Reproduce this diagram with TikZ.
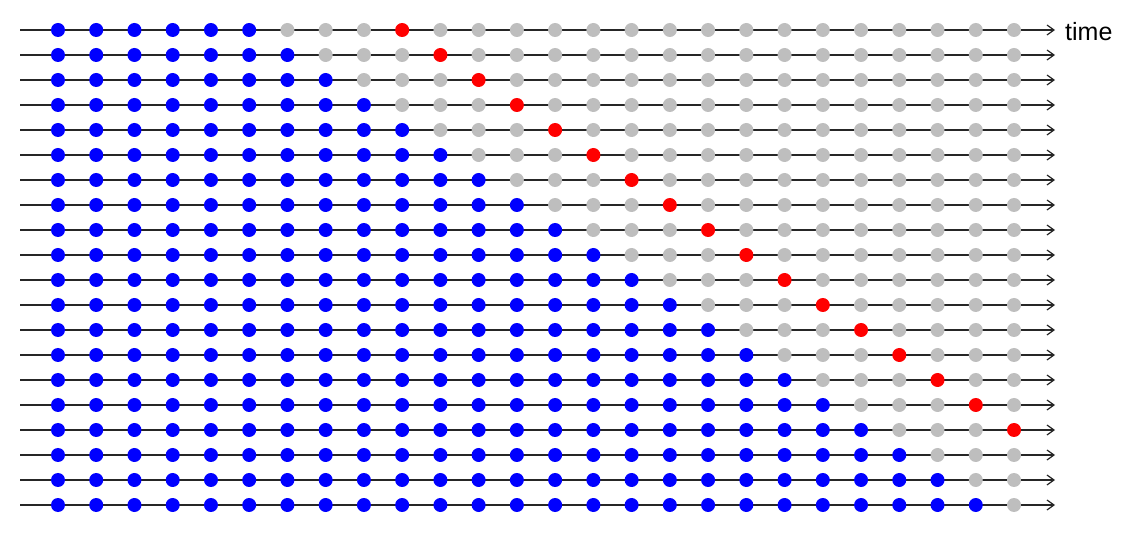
\documentclass[tikz,border=0pt]{standalone}
\usepackage{fontspec}
\setmainfont{Liberation Sans}
\usetikzlibrary{arrows.meta}
\definecolor{dotblue}{RGB}{0,0,255}
\definecolor{dotred}{RGB}{255,0,0}
\definecolor{dotgray}{RGB}{190,190,190}
\begin{document}
\begin{tikzpicture}[x=1pt,y=-1pt,
  axisline/.style={draw=black!85,line width=1.3pt,-{Straight Barb[length=7pt,width=10pt,line width=1.2pt]}},
  dot/.style={circle,inner sep=0pt,minimum size=14pt,draw=none},
  train/.style={dot,fill=dotblue},
  test/.style={dot,fill=dotred},
  unused/.style={dot,fill=dotgray},
  lbl/.style={font=\fontsize{25}{28}\selectfont,anchor=west,inner sep=0pt}]
\useasboundingbox (0,0) rectangle (1125,534);
\foreach \i in {1,...,20}{
  \pgfmathsetmacro{\yy}{30+25*(\i-1)}
  \coordinate (s\i) at (20,\yy);
  \coordinate (e\i) at (1055,\yy);
  \draw[axisline] (s\i) -- (e\i);
  \pgfmathtruncatemacro{\nb}{5+\i}
  \pgfmathtruncatemacro{\nr}{9+\i}
  \foreach \j in {1,...,26}{
    \pgfmathsetmacro{\xx}{58+38.24*(\j-1)}
    \ifnum\j>\nb
      \ifnum\j=\nr
        \node[test] (d\i-\j) at (\xx,\yy) {};
      \else
        \node[unused] (d\i-\j) at (\xx,\yy) {};
      \fi
    \else
      \node[train] (d\i-\j) at (\xx,\yy) {};
    \fi
  }
}
\node[lbl] (time) at ([xshift=10pt,yshift=-2pt]e1) {time};
\end{tikzpicture}
\end{document}
